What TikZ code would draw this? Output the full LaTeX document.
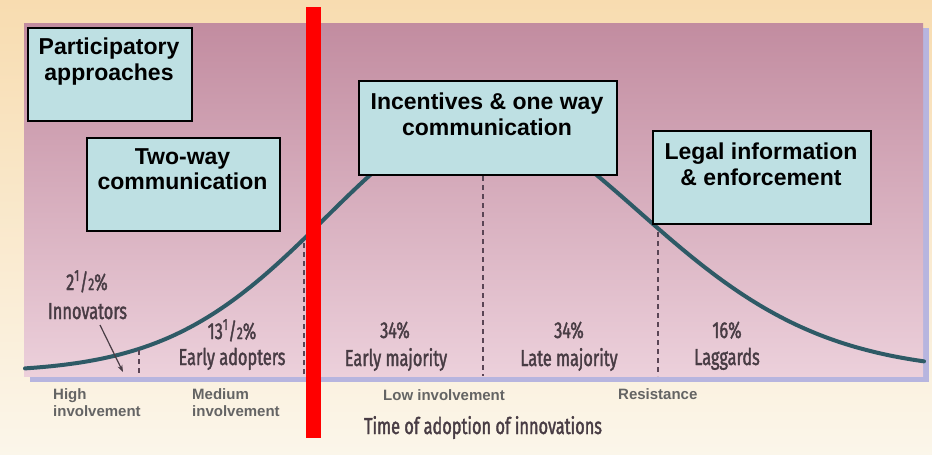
\documentclass[tikz,border=0pt]{standalone}
\usepackage{fontspec}
\setmainfont{Liberation Sans}
\newfontfamily\condf[FakeStretch=0.71,FakeBold=1.6]{Fira Sans}
\usetikzlibrary{arrows.meta}
\definecolor{bgtop}{RGB}{248,220,176}
\definecolor{bgbot}{RGB}{251,246,234}
\definecolor{plottop}{RGB}{194,140,160}
\definecolor{plotbot}{RGB}{236,208,219}
\definecolor{lav}{RGB}{183,181,223}
\definecolor{curvec}{RGB}{46,90,102}
\definecolor{dashc}{RGB}{90,69,85}
\definecolor{boxfill}{RGB}{190,224,227}
\definecolor{labc}{RGB}{72,60,68}
\definecolor{botc}{RGB}{100,100,100}
\definecolor{redbar}{RGB}{255,0,0}
\newcommand{\halfpct}{\textsuperscript{1}/{\fontsize{17}{17}\selectfont 2}\%}
\begin{document}
\begin{tikzpicture}[x=1pt,y=-1pt,
  box/.style={draw=black, line width=1.5pt, fill=boxfill, inner sep=0pt, anchor=north west},
  boxtext/.style={anchor=north, inner sep=0pt, align=center, font=\fontsize{23}{25.5}\selectfont\bfseries},
  curvelabel/.style={anchor=base, inner sep=0pt, text=labc, font=\condf\fontsize{23}{24}\selectfont},
  botlabel/.style={anchor=north west, inner sep=0pt, align=left, text=botc, font=\fontsize{15}{17}\selectfont\bfseries},
  divider/.style={dashc, line width=2pt, dash pattern=on 5pt off 4pt},
]
\useasboundingbox (0,0) rectangle (932,455);
% background
\shade[top color=bgtop, bottom color=bgbot] (0,0) rectangle (932,455);
% plot area with shadow
\fill[lav] (30,28) rectangle (929,382);
\shade[top color=plottop, bottom color=plotbot] (24,23) rectangle (923,376);
% bell curve (left and right halves)
\draw[curvec, line width=4pt, line cap=round]
  plot[domain=25:483, samples=90] (\x, {372-255*exp(-0.5*((\x-483)/157)*((\x-483)/157))})
  -- plot[domain=483:924, samples=90] (\x, {372-255*exp(-0.204*pow(max((\x-483)/100,0.0001),1.85))});
% dividers
\coordinate (d1t) at (139,350); \coordinate (d1b) at (139,373);
\coordinate (d2t) at (304,243); \coordinate (d2b) at (304,375);
\coordinate (d3t) at (483,176); \coordinate (d3b) at (483,376);
\coordinate (d4t) at (658,232); \coordinate (d4b) at (658,376);
\draw[divider] (d1t) -- (d1b);
\draw[divider] (d2t) -- (d2b);
\draw[divider] (d3t) -- (d3b);
\draw[divider] (d4t) -- (d4b);
% curve labels
\node[curvelabel] (p1) at (87,290) {2\halfpct};
\node[curvelabel] (innov) at (87.5,319) {Innovators};
\node[curvelabel] (p2) at (232,339) {13\halfpct};
\node[curvelabel] (l2) at (232,365) {Early adopters};
\node[curvelabel] (p3) at (395,338) {34\%};
\node[curvelabel] (l3) at (396,366) {Early majority};
\node[curvelabel] (p4) at (569,338) {34\%};
\node[curvelabel] (l4) at (569,366) {Late majority};
\node[curvelabel] (p5) at (727,338) {16\%};
\node[curvelabel] (l5) at (727,365) {Laggards};
\node[curvelabel] (axis) at (483,434) {Time of adoption of innovations};
% innovators arrow
\coordinate (arrS) at (100,325);
\coordinate (arrT) at (123,372);
\draw[labc, line width=1.2pt, -{Stealth[length=7pt,width=5pt]}] (arrS) -- (arrT);
% boxes
\node[box, minimum width=164pt, minimum height=93pt] (b1) at (27,27) {};
\node[boxtext] (t1) at (109,38) {Participatory\\approaches};
\node[box, minimum width=193pt, minimum height=93pt] (b2) at (86,137) {};
\node[boxtext] (t2) at (182.5,148) {Two-way\\communication};
\node[box, minimum width=258pt, minimum height=94pt] (b3) at (358,80) {};
\node[boxtext] (t3) at (487,93) {Incentives \& one way\\communication};
\node[box, minimum width=218pt, minimum height=93pt] (b4) at (652,130) {};
\node[boxtext] (t4) at (761,143) {Legal information\\\& enforcement};
% red bar
\fill[redbar] (306,7) rectangle (321,438);
% bottom labels
\node[botlabel] (h) at (53,388) {High\\involvement};
\node[botlabel] (m) at (192,388) {Medium\\involvement};
\node[botlabel] (lo) at (383,389) {Low involvement};
\node[botlabel] (r) at (618,388) {Resistance};
\end{tikzpicture}
\end{document}
